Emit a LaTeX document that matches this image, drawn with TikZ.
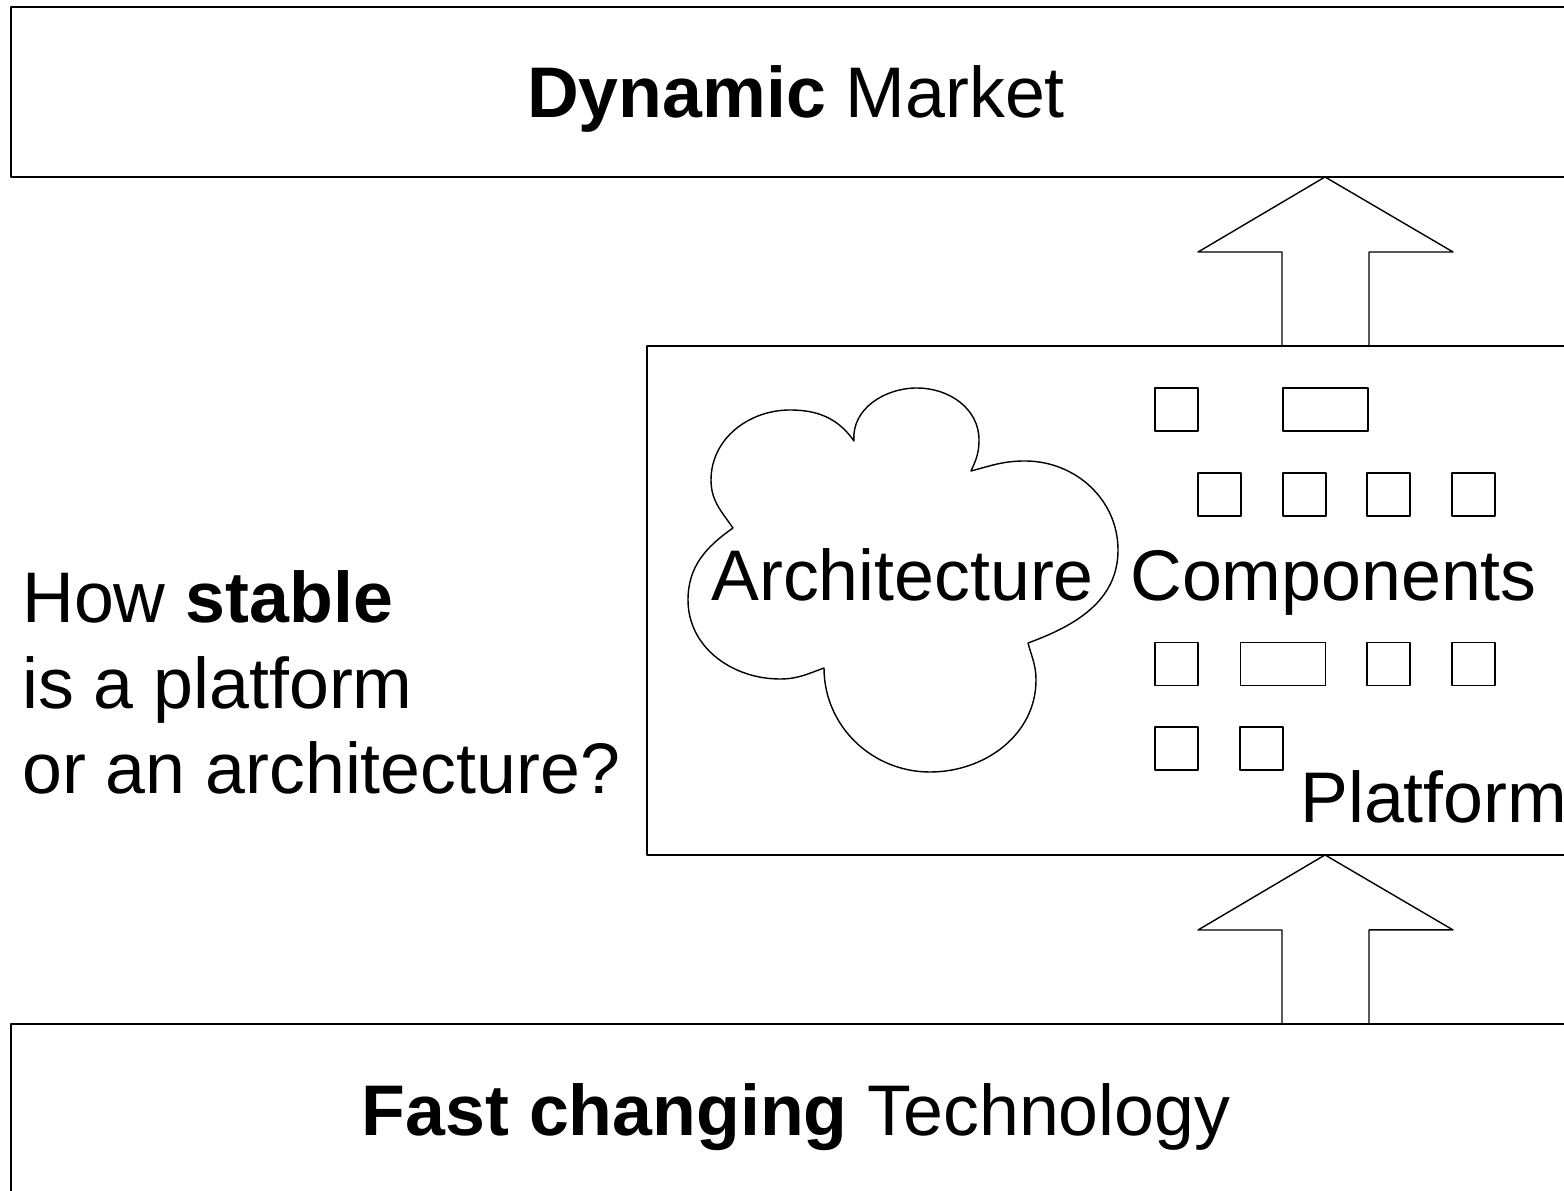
\documentclass[tikz,border=0pt]{standalone}
\usepackage{fontspec}
\setmainfont{Liberation Sans}
\tikzset{
  band/.style={draw, line width=1.1pt, inner sep=0pt, outer sep=0pt, text depth=0pt},
  part/.style={draw, line width=0.8pt, minimum width=0.86cm, minimum height=0.86cm, inner sep=0pt},
  widepart/.style={part, minimum width=1.7cm},
  txt/.style={inner sep=0pt, anchor=base west},
  fatarrow/.style={draw, line width=0.8pt}
}
\begin{document}
\begin{tikzpicture}
    [line cap=round,line join=round,x=0.02cm,y=0.02cm, font=\fontsize{40.8}{48.8}\selectfont]
\useasboundingbox (0,0) rectangle (1564,1190);
\clip (0,0) rectangle (1564,1190);
%the three layers
 \node[band, minimum width=31.4cm, minimum height=3.4cm] (market) at (796,1098) {\textbf{Dynamic} Market};
 \node[band, minimum width=31.4cm, minimum height=3.44cm] (tech) at (796,80) {\textbf{Fast changing} Technology};
 \node[band, minimum width=18.68cm, minimum height=10.18cm] (plat) at (1114,589.5) {};

%the question on the left
 \node[align=left, anchor=north west, inner sep=0pt] (ask) at (22,620) {How \textbf{stable}\\is a platform\\or an architecture?};

%block arrows
 \coordinate (ax) at (1325,0);
 \draw[fatarrow] (plat.north -| ax) ++(-43,0) -- ++(0,94) -- ++(-84,0) -- (market.south -| ax)
      -- ++(128,-75) -- ++(-84,0) -- ++(0,-94) -- cycle;
 \draw[fatarrow] (tech.north -| ax) ++(-43,0) -- ++(0,94) -- ++(-84,0) -- (plat.south -| ax)
      -- ++(128,-75) -- ++(-84,0) -- ++(0,-94) -- cycle;

%the cloud
 \draw[line width=0.8pt] (733,662) to[out=125,in=-90] (711,710) to[out=90,in=180] (790,780)
      to[out=0,in=125] (854,749) to[out=95,in=180] (917,802) to[out=0,in=90] (979,750)
      to[out=-90,in=65] (971,719) to[out=15,in=180] (1025,729) to[out=0,in=90] (1118,640)
      to[out=-90,in=20] (1028,547) to[out=-75,in=90] (1036,510) to[out=-90,in=0] (930,418)
      to[out=180,in=-90] (824,522) to[out=200,in=0] (780,511) to[out=180,in=-90] (688,590)
      to[out=90,in=-145] cycle;
 \node[txt] (arch) at (711,589) {Architecture};

%components
 \node[txt] (comp) at (1130,589) {Components};
 \node[txt] (platname) at (1300,367) {Platform};
 \foreach \n/\x/\y in {c1/1176.5/780.5, c2/1219.5/695.5, c3/1304.5/695.5, c4/1388.5/695.5,
      c5/1473.5/695.5, c6/1176.5/526, c7/1388.5/526, c8/1473.5/526, c9/1176.5/441.5, c10/1261.5/441.5}
   \node[part] (\n) at (\x,\y) {};
 \node[widepart] (w1) at (1325.5,780.5) {};
 \node[widepart] (w2) at (1283,526) {};

\end{tikzpicture}
\end{document}
